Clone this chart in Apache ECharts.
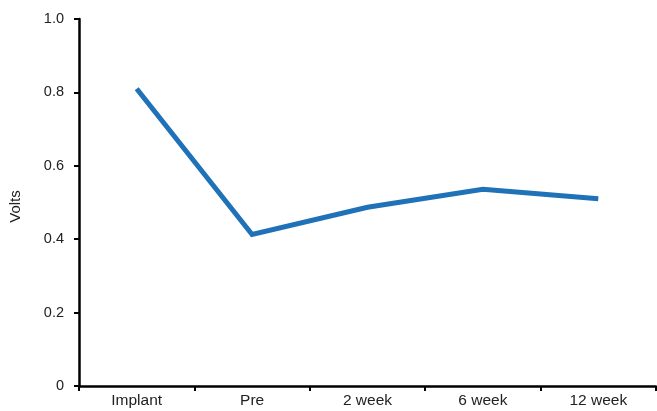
<!DOCTYPE html>
<html>
<head>
<meta charset="utf-8">
<script src="https://cdn.jsdelivr.net/npm/echarts@6/dist/echarts.min.js"></script>
<style>html,body{margin:0;padding:0;background:#fff}#c{width:657px;height:411px}</style>
</head>
<body>
<div id="c"></div>
<script>
var categories = ['Implant', 'Pre', '2 week', '6 week', '12 week'];
var volts = [0.81, 0.413, 0.487, 0.536, 0.51];
var yTicks = [0, 0.2, 0.4, 0.6, 0.8, 1.0];

var chart = echarts.init(document.getElementById('c'), null, {renderer: 'canvas'});
var font = 'Liberation Sans, Arial, sans-serif';
chart.setOption({
  animation: false,
  grid: {left: 78, right: 1, top: 19, bottom: 25},
  xAxis: {
    type: 'category',
    data: categories,
    boundaryGap: true,
    axisLine: {lineStyle: {color: '#000', width: 2.5}},
    axisTick: {show: true, length: 5, lineStyle: {color: '#000', width: 2}},
    axisLabel: {color: '#222', fontFamily: font, fontSize: 15.5, margin: 7}
  },
  yAxis: {
    type: 'value',
    min: 0, max: 1, interval: 0.2,
    name: 'Volts',
    nameLocation: 'middle',
    nameRotate: 90,
    nameGap: 56,
    nameTextStyle: {color: '#222', fontFamily: font, fontSize: 15, padding: [0, 8, 0, 0]},
    splitLine: {show: false},
    axisLine: {show: true, lineStyle: {color: '#000', width: 2.5}},
    axisTick: {show: true, length: 5, lineStyle: {color: '#000', width: 2}},
    axisLabel: {
      color: '#222', fontFamily: font, fontSize: 14.5, margin: 15,
      formatter: function (v) {
        if (v === 0) return '0';
        return v.toFixed(1);
      }
    }
  },
  series: [{
    type: 'line',
    data: volts,
    symbol: 'none',
    lineStyle: {color: '#1f72b8', width: 5, join: 'miter', cap: 'butt'}
  }]
});
</script>
</body>
</html>
